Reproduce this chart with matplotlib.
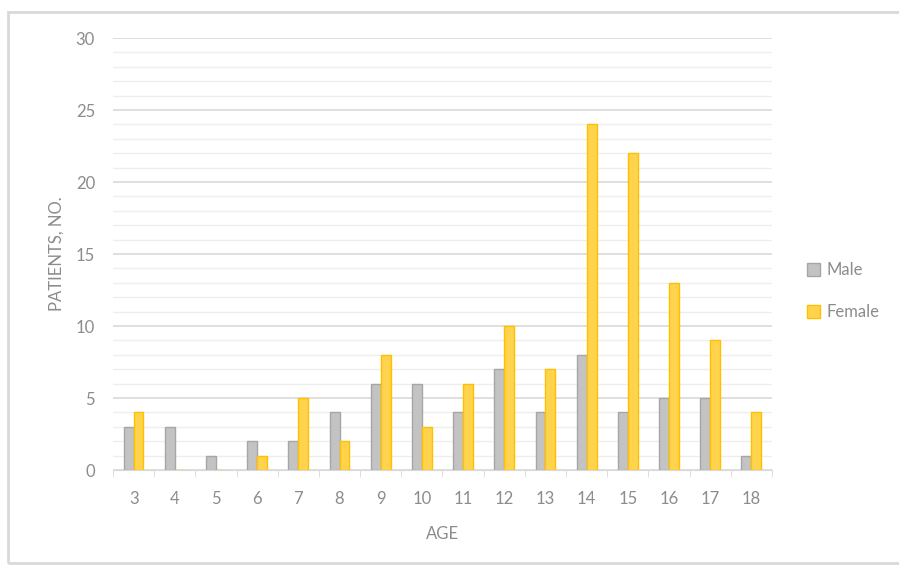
import numpy as np
import matplotlib.pyplot as plt
from matplotlib.patches import Rectangle

# Patients by age and sex
ages = [3, 4, 5, 6, 7, 8, 9, 10, 11, 12, 13, 14, 15, 16, 17, 18]
male = [3, 3, 1, 2, 2, 4, 6, 6, 4, 7, 4, 8, 4, 5, 5, 1]
female = [4, 0, 0, 1, 5, 2, 8, 3, 6, 10, 7, 24, 22, 13, 9, 4]

plt.rcParams['font.family'] = ['Lato', 'DejaVu Sans']
text_color = '#8c8c8c'

fig = plt.figure(figsize=(8.99, 5.65), dpi=100)
ax = fig.add_axes([0.1257, 0.168, 0.733, 0.7646])

# outer frame of the chart
fig.patches.append(Rectangle((8 / 899, 0.004), 0.995, 1 - 12 / 565 - 0.004,
                             transform=fig.transFigure, fill=False,
                             edgecolor='#d9d9d9', linewidth=2))

x = np.arange(len(ages))
w = 0.24
ax.bar(x - w / 2, male, width=w, color='#c3c3c3', edgecolor='#a6a6a6',
       linewidth=1, label='Male', zorder=3)
ax.bar(x + w / 2, female, width=w, color='#ffd34d', edgecolor='#ffc000',
       linewidth=1, label='Female', zorder=3)

ax.set_xlim(-0.5, len(ages) - 0.5)
ax.set_ylim(0, 30)
ax.set_yticks(np.arange(0, 31, 5))
ax.set_yticks(np.arange(0, 31, 1), minor=True)
ax.grid(axis='y', which='major', color='#d9d9d9', linewidth=1.2, zorder=0)
ax.grid(axis='y', which='minor', color='#eeeeee', linewidth=1, zorder=0)
ax.tick_params(axis='y', which='both', length=0, colors=text_color,
               labelsize=12, pad=13)

ax.set_xticks(x)
ax.set_xticklabels([str(a) for a in ages])
ax.set_xticks(np.arange(-0.5, len(ages), 1), minor=True)
ax.tick_params(axis='x', which='major', length=0, colors=text_color,
               labelsize=12, pad=15)
ax.tick_params(axis='x', which='minor', length=5, color='#d9d9d9')

for side in ['top', 'right', 'left']:
    ax.spines[side].set_visible(False)
ax.spines['bottom'].set_color('#d9d9d9')
ax.spines['bottom'].set_zorder(4)

ax.set_xlabel('AGE', color=text_color, fontsize=12, labelpad=14)
ax.set_ylabel('PATIENTS, NO.', color=text_color, fontsize=12, labelpad=8)

leg = ax.legend(loc='center left', bbox_to_anchor=(1.03, 0.414),
                frameon=False, fontsize=12, labelspacing=1.55,
                handlelength=0.8, handleheight=0.8, handletextpad=0.4)
for t in leg.get_texts():
    t.set_color(text_color)

fig.savefig('out.png', dpi=100)
